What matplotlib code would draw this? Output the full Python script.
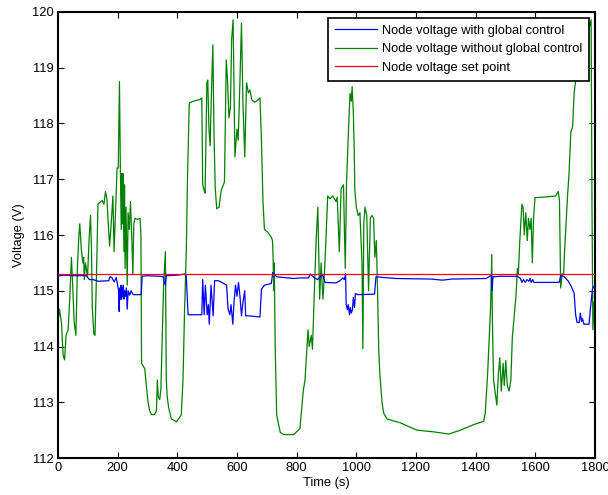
import numpy as np
import matplotlib
matplotlib.use("Agg")
import matplotlib.pyplot as plt

plt.rcParams["font.family"] = ["Liberation Sans", "DejaVu Sans"]

# node voltage without global control (green)
green_t = [0, 5, 12, 17, 22, 27, 34, 40, 45, 50, 54, 60, 65, 70, 73, 78, 83, 86, 88, 92,
           99, 104, 109, 112, 115, 120, 124, 129, 134, 140, 148, 154, 159, 164, 168, 173,
           177, 184, 188, 192, 198, 202, 206, 209, 212, 214, 216, 218, 221, 223, 225, 228,
           232, 235, 239, 243, 247, 251, 254, 258, 266, 275, 278, 280, 291, 296, 302, 307,
           313, 324, 330, 333, 336, 341, 345, 348, 351, 354, 360, 363, 366, 371, 380, 397,
           413, 419, 424, 430, 434, 440, 454, 476, 482, 485, 490, 493, 499, 502, 506, 510,
           514, 519, 523, 527, 532, 540, 547, 558, 564, 568, 573, 578, 582, 587, 593, 600,
           604, 609, 615, 620, 626, 632, 638, 643, 650, 660, 670, 677, 682, 687, 692, 703,
           715, 719, 721, 723, 725, 728, 733, 745, 757, 790, 811, 822, 828, 834, 838, 842,
           849, 853, 860, 866, 871, 877, 882, 888, 893, 898, 904, 912, 921, 932, 936, 943,
           949, 957, 960, 963, 967, 975, 979, 983, 986, 990, 993, 995, 1000, 1006, 1012,
           1019, 1022, 1025, 1029, 1035, 1041, 1047, 1052, 1058, 1062, 1067, 1071, 1075,
           1079, 1086, 1092, 1103, 1148, 1203, 1259, 1310, 1349, 1394, 1427, 1432, 1440,
           1445, 1450, 1454, 1456, 1460, 1465, 1471, 1476, 1481, 1486, 1492, 1496, 1501,
           1506, 1512, 1518, 1523, 1530, 1535, 1540, 1543, 1548, 1555, 1559, 1563, 1568,
           1573, 1577, 1582, 1586, 1590, 1594, 1599, 1630, 1668, 1677, 1681, 1685, 1690,
           1695, 1698, 1702, 1708, 1713, 1719, 1725, 1730, 1736, 1760, 1780, 1787, 1790,
           1793, 1797, 1800]
green_v = [114.45, 114.67, 114.4, 113.85, 113.76, 114.2, 114.3, 114.94, 115.6, 115.0, 114.45,
           114.2, 115.4, 116.0, 116.2, 115.76, 115.5, 115.6, 115.2, 115.5, 115.25, 115.9,
           116.35, 115.8, 114.7, 114.23, 114.2, 115.3, 116.56, 116.58, 116.62, 116.55,
           116.78, 116.65, 116.24, 115.8, 116.1, 116.7, 115.7, 116.3, 117.2, 117.2, 118.75,
           117.2, 116.1, 117.1, 116.2, 117.1, 115.7, 116.9, 115.4, 116.5, 115.1, 116.4,
           116.1, 116.6, 116.0, 115.3, 116.2, 116.3, 116.28, 116.3, 116.0, 113.7, 113.6,
           113.3, 113.0, 112.85, 112.78, 112.78, 112.85, 113.4, 113.1, 113.05, 113.25,
           113.9, 114.5, 115.1, 115.7, 113.4, 113.1, 112.9, 112.7, 112.65, 112.77, 113.4,
           114.6, 115.7, 117.0, 118.37, 118.4, 118.43, 118.46, 116.9, 116.8, 116.75,
           118.73, 118.78, 117.9, 117.6, 118.5, 119.41, 117.8, 116.85, 116.47, 116.5,
           116.8, 116.95, 119.14, 118.8, 118.1, 118.3, 119.5, 119.86, 117.4, 117.9, 117.7,
           118.6, 119.8, 118.36, 117.4, 118.73, 118.55, 118.6, 118.42, 118.38, 118.42,
           118.46, 117.7, 116.6, 116.1, 116.05, 115.96, 115.9, 115.6, 115.0, 115.5, 114.0,
           112.77, 112.46, 112.42, 112.42, 112.53, 113.2, 113.4, 113.96, 114.3, 114.0,
           114.2, 113.95, 115.1, 116.0, 116.5, 114.85, 115.5, 114.85, 115.3, 115.9, 116.7,
           116.65, 116.7, 116.6, 116.68, 115.7, 116.83, 116.9, 116.1, 115.4, 116.9, 118.06,
           118.54, 118.4, 118.66, 118.2, 117.5, 116.8, 116.5, 116.35, 116.4, 115.5, 113.96,
           116.2, 116.5, 116.35, 115.0, 116.3, 116.35, 116.3, 115.6, 115.9, 115.05, 113.96,
           113.5, 113.0, 112.8, 112.7, 112.63, 112.5, 112.47, 112.43, 112.5, 112.6, 112.66,
           112.8, 113.5, 114.1, 114.7, 115.65, 114.5, 113.4, 113.2, 112.95, 113.5, 113.8,
           113.2, 113.7, 113.3, 113.75, 113.3, 113.2, 113.4, 114.17, 114.6, 114.9, 115.4,
           115.3, 115.9, 116.55, 116.5, 116.0, 116.4, 115.9, 116.3, 116.1, 116.3, 115.5,
           116.3, 116.67, 116.68, 116.7, 116.78, 116.6, 115.05, 115.3, 115.3, 115.7, 116.1,
           116.7, 117.1, 117.85, 117.94, 118.54, 118.8, 119.3, 119.7, 119.86, 116.5, 114.3,
           114.8, 114.5]

# node voltage with global control (blue)
blue_t = [0, 15, 60, 95, 105, 118, 135, 170, 174, 180, 186, 189, 195, 200, 203, 205, 207,
          209, 211, 213, 215, 217, 219, 221, 223, 226, 229, 232, 235, 240, 245, 252, 279,
          282, 300, 340, 353, 356, 360, 363, 400, 425, 430, 436, 482, 485, 490, 494, 500,
          504, 507, 513, 517, 520, 525, 538, 549, 565, 570, 576, 580, 586, 590, 595, 600,
          605, 610, 615, 620, 626, 629, 638, 677, 682, 692, 715, 720, 733, 790, 812, 840,
          845, 860, 870, 880, 888, 895, 932, 945, 955, 960, 964, 966, 970, 973, 977, 980,
          983, 987, 990, 994, 997, 1005, 1061, 1066, 1133, 1250, 1289, 1320, 1435, 1450,
          1453, 1455, 1458, 1483, 1540, 1550, 1555, 1560, 1566, 1572, 1578, 1583, 1586,
          1591, 1595, 1680, 1685, 1695, 1711, 1720, 1730, 1735, 1740, 1747, 1751, 1755,
          1758, 1763, 1780, 1785, 1792, 1800]
blue_v = [115.26, 115.28, 115.27, 115.27, 115.2, 115.2, 115.17, 115.18, 115.25, 115.24,
          115.18, 115.16, 115.24, 115.1, 115.0, 114.63, 115.05, 114.85, 115.1, 114.85,
          115.05, 114.9, 115.1, 114.85, 115.0, 114.9, 115.05, 114.67, 115.0, 114.92, 115.0,
          114.93, 114.93, 115.26, 115.27, 115.26, 115.25, 115.15, 115.1, 115.27, 115.28,
          115.3, 115.26, 114.57, 114.57, 115.2, 114.57, 115.1, 114.57, 114.75, 114.4,
          115.1, 114.8, 114.55, 115.18, 115.18, 115.15, 115.1, 114.68, 114.57, 114.75,
          114.4, 114.8, 115.1, 114.9, 115.15, 114.9, 114.55, 114.8, 115.0, 114.55, 114.55,
          114.53, 115.03, 115.1, 115.13, 115.33, 115.25, 115.22, 115.23, 115.23, 115.3,
          115.23, 115.2, 115.26, 115.28, 115.15, 115.14, 115.18, 115.23, 115.2, 115.31,
          114.75, 114.66, 114.75, 114.57, 114.7, 114.6, 114.66, 114.88, 114.7, 114.95,
          114.93, 114.94, 115.25, 115.22, 115.21, 115.19, 115.21, 115.22, 115.27, 115.27,
          115.0, 115.25, 115.26, 115.26, 115.22, 115.15, 115.2, 115.15, 115.2, 115.17,
          115.22, 115.15, 115.2, 115.15, 115.15, 115.27, 115.26, 115.17, 115.08, 114.96,
          114.57, 114.43, 114.43, 114.6, 114.45, 114.5, 114.4, 114.4, 114.7, 115.05, 115.1]

set_point = 115.3
x_ticks = [0, 200, 400, 600, 800, 1000, 1200, 1400, 1600, 1800]
y_ticks = [112, 113, 114, 115, 116, 117, 118, 119, 120]

fig, ax = plt.subplots(figsize=(6.08, 4.95), dpi=100)
fig.subplots_adjust(left=0.0954, right=0.9786, top=0.9758, bottom=0.0747)

ax.plot(blue_t, blue_v, color=(0, 0, 1), lw=0.9, label="Node voltage with global control", zorder=3)
ax.plot(green_t, green_v, color=(0, 0.5, 0), lw=0.9, label="Node voltage without global control", zorder=2)
ax.plot([0, 1800], [set_point, set_point], color=(1, 0, 0), lw=0.9,
        label="Node voltage set point", zorder=4)

ax.set_xlim(0, 1800)
ax.set_ylim(112, 120)
ax.set_xticks(x_ticks)
ax.set_yticks(y_ticks)
ax.tick_params(direction="in", top=True, right=True, labelsize=9.3, length=4, width=0.8,
               colors="black", pad=3)
for s in ax.spines.values():
    s.set_linewidth(1.5)

ax.set_xlabel("Time (s)", fontsize=9.3, labelpad=2)
ax.set_ylabel("Voltage (V)", fontsize=9.3, labelpad=5)

leg = ax.legend(loc="upper right", fontsize=9.3, fancybox=False, framealpha=1,
                edgecolor="black", handlelength=3.3, borderpad=0.55, labelspacing=0.5,
                borderaxespad=0.45, handletextpad=0.35)
leg.get_frame().set_linewidth(1.2)

plt.savefig("out.png", dpi=100)
plt.close()
